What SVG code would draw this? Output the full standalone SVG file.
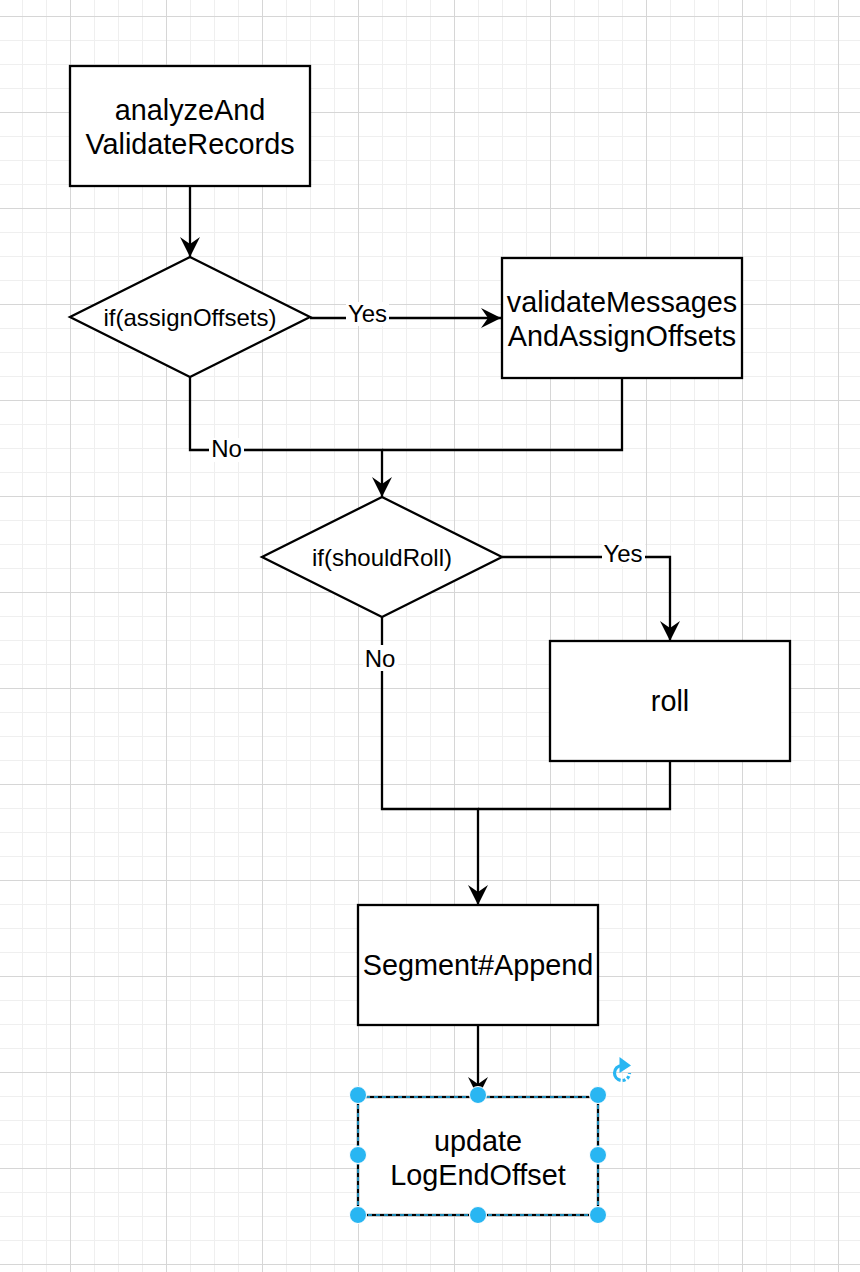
<svg xmlns="http://www.w3.org/2000/svg" width="860" height="1272" viewBox="0 0 860 1272">
  <style>
    .box { fill: #ffffff; stroke: #000000; stroke-width: 2.3; }
    .edge { fill: none; stroke: #000000; stroke-width: 2.3; }
    .t { font-family: "Liberation Sans", Arial, Helvetica, sans-serif; fill: #000000; text-anchor: middle; }
    .big { font-size: 28.8px; }
    .mid { font-size: 24px; }
    .lblbg { fill: #ffffff; }
    .handle { fill: #29b6f2; stroke: #ffffff; stroke-width: 1; }
  </style>
  <defs>
    <pattern id="gridMinor" width="24" height="24" patternUnits="userSpaceOnUse" x="22" y="16">
      <rect width="24" height="1" fill="#efefef"/>
      <rect width="1" height="24" fill="#efefef"/>
    </pattern>
    <pattern id="gridMajor" width="96" height="96" patternUnits="userSpaceOnUse" x="70" y="16">
      <rect width="96" height="1" fill="#d6d6d6"/>
      <rect width="1" height="96" fill="#d6d6d6"/>
    </pattern>
    <marker id="arrow" markerUnits="userSpaceOnUse" markerWidth="24" markerHeight="24" refX="22" refY="12" orient="auto">
      <path d="M22 12 L2 2 L9 12 L2 22 Z" fill="#000000"/>
    </marker>
  </defs>

  <!-- background grid -->
  <rect width="860" height="1272" fill="#ffffff"/>
  <rect width="860" height="1272" fill="url(#gridMinor)"/>
  <rect width="860" height="1272" fill="url(#gridMajor)"/>

  <!-- connectors -->
  <g id="connectors">
    <path class="edge" d="M190 186 V257" marker-end="url(#arrow)"/>
    <path class="edge" d="M310 318 H501" marker-end="url(#arrow)"/>
    <path class="edge" d="M190 377 V450 H382 V497" marker-end="url(#arrow)"/>
    <path class="edge" d="M622 378 V450 H382"/>
    <path class="edge" d="M502 557 H670 V641" marker-end="url(#arrow)"/>
    <path class="edge" d="M382 617 V809 H478 V905" marker-end="url(#arrow)"/>
    <path class="edge" d="M670 761 V809 H478"/>
    <path class="edge" d="M478 1025 V1097" marker-end="url(#arrow)"/>

    <!-- edge labels -->
    <rect class="lblbg" x="346" y="302" width="43" height="24"/>
    <text class="t mid" x="367.5" y="322">Yes</text>
    <rect class="lblbg" x="209" y="438" width="35" height="24"/>
    <text class="t mid" x="226.5" y="457">No</text>
    <rect class="lblbg" x="602" y="542" width="43" height="24"/>
    <text class="t mid" x="623" y="562">Yes</text>
    <rect class="lblbg" x="363" y="645" width="35" height="26"/>
    <text class="t mid" x="380" y="667">No</text>
  </g>

  <!-- nodes -->
  <g id="analyzeAndValidateRecords">
    <rect class="box" x="70" y="66" width="240" height="120"/>
    <text class="t big" x="190" y="120">analyzeAnd</text>
    <text class="t big" x="190" y="154">ValidateRecords</text>
  </g>

  <g id="ifAssignOffsets">
    <polygon class="box" points="190,257 310,317 190,377 70,317"/>
    <text class="t mid" x="190" y="326">if(assignOffsets)</text>
  </g>

  <g id="validateMessagesAndAssignOffsets">
    <rect class="box" x="502" y="258" width="240" height="120"/>
    <text class="t big" x="622" y="312">validateMessages</text>
    <text class="t big" x="622" y="346">AndAssignOffsets</text>
  </g>

  <g id="ifShouldRoll">
    <polygon class="box" points="382,497 502,557 382,617 262,557"/>
    <text class="t mid" x="382" y="566">if(shouldRoll)</text>
  </g>

  <g id="roll">
    <rect class="box" x="550" y="641" width="240" height="120"/>
    <text class="t big" x="670" y="711">roll</text>
  </g>

  <g id="segmentAppend">
    <rect class="box" x="358" y="905" width="240" height="120"/>
    <text class="t big" x="478" y="975">Segment#Append</text>
  </g>

  <g id="updateLogEndOffset">
    <rect class="box" x="358" y="1097" width="240" height="118"/>
    <text class="t big" x="478" y="1151">update</text>
    <text class="t big" x="478" y="1185">LogEndOffset</text>
    <!-- selection outline and handles -->
    <rect x="358" y="1097" width="240" height="118" fill="none" stroke="#29b6f2" stroke-width="1.5" stroke-dasharray="4 4"/>
    <circle class="handle" cx="358" cy="1095" r="8.5"/>
    <circle class="handle" cx="478" cy="1095" r="8.5"/>
    <circle class="handle" cx="598" cy="1095" r="8.5"/>
    <circle class="handle" cx="358" cy="1155" r="8.5"/>
    <circle class="handle" cx="598" cy="1155" r="8.5"/>
    <circle class="handle" cx="358" cy="1215" r="8.5"/>
    <circle class="handle" cx="478" cy="1215" r="8.5"/>
    <circle class="handle" cx="598" cy="1215" r="8.5"/>
    <!-- rotate handle -->
    <path d="M622 1065.5 A7.5 7.5 0 1 0 629.5 1073" fill="none" stroke="#29b6f2" stroke-width="3.2" stroke-dasharray="22 2 3 2 3 2"/>
    <path d="M619.5 1057 L631 1065.5 L619.5 1073 Z" fill="#29b6f2"/>
  </g>
</svg>
